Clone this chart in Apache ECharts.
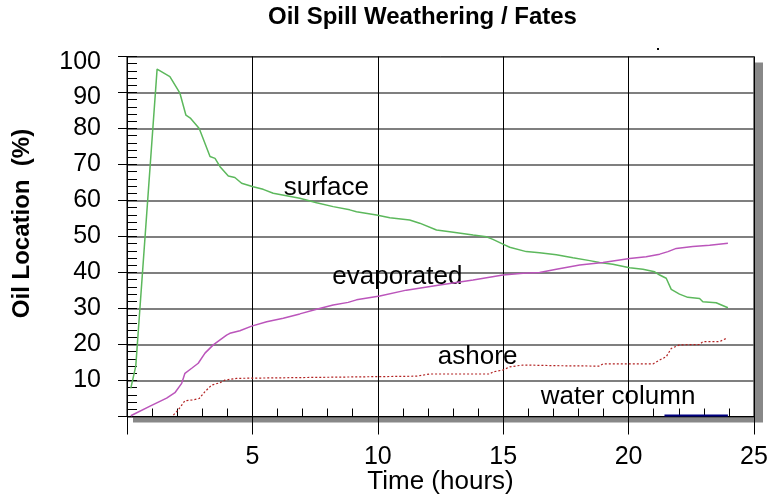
<!DOCTYPE html>
<html>
<head>
<meta charset="utf-8">
<script src="https://cdn.jsdelivr.net/npm/echarts@6/dist/echarts.min.js"></script>
<style>
  html, body { margin: 0; padding: 0; background: #fff; }
  #chart { width: 768px; height: 497px; }
</style>
</head>
<body>
<div id="chart"></div>
<script>
// [hours, % of oil]
var surfaceData = [
  [0.15, 7.8], [0.35, 14], [1.2, 96.5], [1.71, 94.4], [2.11, 89.8], [2.35, 83.7], [2.54, 82.8],
  [2.88, 80.0], [3.31, 72.2], [3.51, 71.7], [3.71, 69.4], [4.04, 66.8], [4.3, 66.4], [4.57, 64.8],
  [5.03, 63.8], [5.43, 63.1], [5.83, 62.0], [6.36, 61.3], [6.89, 60.6], [7.56, 59.4], [8.22, 58.3],
  [8.88, 57.4], [9.15, 56.9], [9.95, 56.0], [10.48, 55.2], [11.27, 54.6], [11.67, 53.7], [12.34, 51.8],
  [12.87, 51.3], [13.8, 50.4], [14.33, 49.9], [14.59, 49.2], [14.99, 47.9], [15.26, 47.0], [15.92, 45.8],
  [16.45, 45.5], [17.12, 44.9], [17.78, 44.1], [18.45, 43.3], [18.84, 42.8], [19.37, 42.3], [20.04, 41.3],
  [20.57, 40.9], [21.04, 40.2], [21.24, 39.3], [21.5, 38.4], [21.7, 35.3], [22.03, 34.0], [22.36, 33.1],
  [22.83, 32.8], [22.96, 31.9], [23.49, 31.6], [23.96, 30.2]
];
var evaporatedData = [
  [0.15, 0.2], [0.92, 2.9], [1.58, 5.1], [1.91, 6.6], [2.18, 9.2], [2.31, 12.0], [2.58, 13.4],
  [2.84, 14.8], [3.11, 17.6], [3.44, 19.9], [3.71, 21.3], [3.97, 22.6], [4.1, 23.1], [4.5, 23.8],
  [4.97, 25.1], [5.57, 26.3], [6.23, 27.3], [6.89, 28.5], [7.56, 29.8], [8.22, 31.0], [8.82, 31.7],
  [9.15, 32.4], [10.08, 33.5], [11.14, 35.1], [12.47, 36.5], [13.8, 37.9], [14.99, 39.3], [15.79, 39.8],
  [16.45, 40.0], [17.12, 40.9], [18.05, 42.1], [18.98, 42.8], [20.04, 43.9], [20.7, 44.4], [21.24, 45.1],
  [21.57, 45.8], [21.9, 46.7], [22.56, 47.2], [23.23, 47.6], [23.96, 48.1]
];
var ashoreData = [
  [1.85, 0.4], [2.04, 1.8], [2.31, 4.4], [2.64, 4.6], [2.88, 5.0], [3.11, 6.9], [3.37, 8.7],
  [3.71, 9.4], [3.9, 10.1], [4.37, 10.6], [4.43, 11.0], [11.54, 11.2], [12.07, 11.8], [14.46, 11.8],
  [14.59, 12.4], [14.99, 12.9], [15.26, 13.8], [15.79, 14.3], [17.25, 14.1], [18.84, 14.0], [18.98, 14.6],
  [20.97, 14.6], [21.24, 15.7], [21.5, 16.6], [21.7, 18.9], [22.03, 19.9], [22.83, 20.0], [22.96, 20.8],
  [23.63, 20.8], [23.89, 21.7]
];
var waterColumnData = [[21.43, 0.3], [23.96, 0.3]];

var curveNames = ['surface', 'evaporated', 'ashore', 'water column'];
var curveLabelPos = [[7.95, 63.4], [10.78, 38.7], [13.98, 16.5], [19.58, 5.4]];

var FONT = '"Liberation Sans", Arial, sans-serif';
var X_MIN = 0, X_MAX = 25, Y_MIN = 0, Y_MAX = 100;

var chart = echarts.init(document.getElementById('chart'), null, { renderer: 'canvas' });

var labelData = curveNames.map(function (n, i) {
  return { name: n, value: curveLabelPos[i] };
});

var option = {
  animation: false,
  backgroundColor: '#fff',
  title: {
    text: 'Oil Spill Weathering / Fates',
    left: 268, top: 5, padding: 0,
    textStyle: { fontFamily: FONT, fontSize: 24, fontWeight: 'bold', color: '#000' }
  },
  grid: {
    left: 127, right: 14, top: 56.5, bottom: 80.5,
    outerBoundsMode: 'none', containLabel: false,
    show: true, backgroundColor: '#fff',
    borderColor: '#000', borderWidth: 1
  },
  xAxis: [{
    type: 'value', min: X_MIN, max: X_MAX, interval: 5, position: 'bottom',
    axisLine: { show: true, onZero: false, lineStyle: { color: '#000', width: 1 } },
    axisTick: { show: true, inside: false, length: 18, lineStyle: { color: '#000' } },
    axisLabel: {
      margin: 28, fontSize: 25, color: '#000', fontFamily: FONT,
      formatter: function (v) { return v === 0 ? '' : v; }
    },
    splitLine: { show: true, lineStyle: { color: '#000', width: 1 } },
    name: 'Time (hours)', nameLocation: 'middle', nameGap: 52, nameMoveOverlap: false,
    nameTextStyle: { fontSize: 26, color: '#000', fontFamily: FONT }
  }, {
    type: 'value', min: X_MIN, max: X_MAX, interval: 1, position: 'bottom',
    axisLine: { show: false },
    axisTick: { show: true, inside: true, length: 8, lineStyle: { color: '#000' } },
    axisLabel: { show: false }, splitLine: { show: false }
  }, {
    type: 'value', min: X_MIN, max: X_MAX, position: 'top', offset: 2.5,
    axisLine: { show: true, lineStyle: { color: '#000' } },
    axisTick: { show: false }, axisLabel: { show: false }, splitLine: { show: false }
  }],
  yAxis: [{
    type: 'value', min: Y_MIN, max: Y_MAX, interval: 10, position: 'left',
    axisLine: { show: true, onZero: false, lineStyle: { color: '#000', width: 1 } },
    axisTick: { show: true, inside: false, length: 9, lineStyle: { color: '#000' } },
    axisLabel: {
      margin: 26, fontSize: 25, color: '#000', fontFamily: FONT,
      formatter: function (v) {
        if (v === 0) return '';
        if (v === 100) return '{a|' + v + '}';
        if (v === 90) return '{b|' + v + '}';
        return v;
      },
      rich: {
        a: { fontSize: 25, fontFamily: FONT, color: '#000', padding: [12, 0, 0, 0] },
        b: { fontSize: 25, fontFamily: FONT, color: '#000', padding: [9, 0, 0, 0] }
      }
    },
    splitLine: { show: true, lineStyle: { color: '#555', width: 1.5 } },
    name: 'Oil Location  (%)', nameLocation: 'middle', nameGap: 93, nameMoveOverlap: false,
    nameTextStyle: { fontSize: 24, fontWeight: 'bold', color: '#000', fontFamily: FONT, padding: [0, 0, 0, 26] }
  }, {
    type: 'value', min: Y_MIN, max: Y_MAX, interval: 2, position: 'left',
    axisLine: { show: false },
    axisTick: { show: true, inside: true, length: 10, lineStyle: { color: '#000' } },
    axisLabel: { show: false }, splitLine: { show: false }
  }, {
    type: 'value', min: Y_MIN, max: Y_MAX, position: 'right', offset: 3,
    axisLine: { show: true, lineStyle: { color: '#000' } },
    axisTick: { show: false }, axisLabel: { show: false }, splitLine: { show: false }
  }],
  series: [{
    name: 'surface', type: 'line', data: surfaceData, showSymbol: false,
    lineStyle: { color: '#5cb85c', width: 1.5 }
  }, {
    name: 'evaporated', type: 'line', data: evaporatedData, showSymbol: false,
    lineStyle: { color: '#bb55bb', width: 1.5 }
  }, {
    name: 'ashore', type: 'line', data: ashoreData, showSymbol: false,
    lineStyle: { color: '#b22222', width: 1.2, type: [2, 2] }
  }, {
    name: 'water column', type: 'line', data: waterColumnData, showSymbol: false,
    lineStyle: { color: '#000080', width: 2 }
  }, {
    name: 'labels', type: 'scatter', data: labelData, symbolSize: 0, silent: true,
    itemStyle: { opacity: 1 },
    label: {
      show: true, position: 'inside', formatter: '{b}',
      fontSize: 26, color: '#000', fontFamily: FONT
    }
  }]
};

chart.setOption(option);

// drop shadow behind the plot frame, placed from the grid corners
var p0 = chart.convertToPixel({ gridIndex: 0 }, [X_MIN, Y_MAX]);
var p1 = chart.convertToPixel({ gridIndex: 0 }, [X_MAX, Y_MIN]);
chart.setOption({
  graphic: [{
    type: 'rect', z: -10, silent: true,
    shape: { x: p0[0] + 6, y: p0[1] + 6, width: p1[0] - p0[0] + 3, height: p1[1] - p0[1] },
    style: { fill: '#888' }
  }, {
    type: 'rect', silent: true,
    shape: { x: 657, y: 48, width: 2, height: 2 }, style: { fill: '#000' }
  }]
});
</script>
</body>
</html>
